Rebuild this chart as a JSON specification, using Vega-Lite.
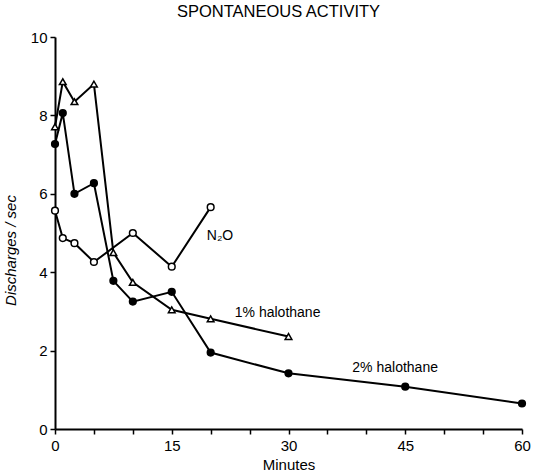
{
  "$schema": "https://vega.github.io/schema/vega-lite/v6.json",
  "width": 467,
  "height": 392,
  "autosize": {"type": "none"},
  "padding": {"left": 55, "top": 37, "right": 14, "bottom": 43},
  "background": "white",
  "title": {"text": "SPONTANEOUS ACTIVITY", "font": "Liberation Sans", "fontSize": 16.5, "fontWeight": "normal", "color": "black", "offset": 10, "dx": -10},
  "config": {
    "view": {"stroke": null},
    "axis": {"grid": false, "domainColor": "black", "domainWidth": 2, "tickColor": "black", "tickWidth": 1.5, "tickSize": 5, "labelColor": "black", "labelFont": "Liberation Sans", "labelFontSize": 15, "titleFont": "Liberation Sans", "titleColor": "black", "titleFontWeight": "normal"}
  },
  "resolve": {"axis": {"x": "independent"}},
  "datasets": {
    "pts": [
      {"series": "N2O", "minutes": 0, "rate": 5.57},
      {"series": "N2O", "minutes": 1, "rate": 4.87},
      {"series": "N2O", "minutes": 2.5, "rate": 4.74},
      {"series": "N2O", "minutes": 5, "rate": 4.26},
      {"series": "N2O", "minutes": 10, "rate": 5.0},
      {"series": "N2O", "minutes": 15, "rate": 4.14},
      {"series": "N2O", "minutes": 20, "rate": 5.66},
      {"series": "1% halothane", "minutes": 0, "rate": 7.71},
      {"series": "1% halothane", "minutes": 1, "rate": 8.86},
      {"series": "1% halothane", "minutes": 2.5, "rate": 8.35},
      {"series": "1% halothane", "minutes": 5, "rate": 8.8},
      {"series": "1% halothane", "minutes": 7.5, "rate": 4.5},
      {"series": "1% halothane", "minutes": 10, "rate": 3.74},
      {"series": "1% halothane", "minutes": 15, "rate": 3.04},
      {"series": "1% halothane", "minutes": 20, "rate": 2.81},
      {"series": "1% halothane", "minutes": 30, "rate": 2.36},
      {"series": "2% halothane", "minutes": 0, "rate": 7.27},
      {"series": "2% halothane", "minutes": 1, "rate": 8.06},
      {"series": "2% halothane", "minutes": 2.5, "rate": 6.0},
      {"series": "2% halothane", "minutes": 5, "rate": 6.27},
      {"series": "2% halothane", "minutes": 7.5, "rate": 3.78},
      {"series": "2% halothane", "minutes": 10, "rate": 3.25},
      {"series": "2% halothane", "minutes": 15, "rate": 3.5},
      {"series": "2% halothane", "minutes": 20, "rate": 1.95},
      {"series": "2% halothane", "minutes": 30, "rate": 1.42},
      {"series": "2% halothane", "minutes": 45, "rate": 1.08},
      {"series": "2% halothane", "minutes": 60, "rate": 0.65}
    ],
    "labels": [
      {"text": "N₂O", "minutes": 19.5, "rate": 4.92},
      {"text": "1% halothane", "minutes": 23.1, "rate": 2.96},
      {"text": "2% halothane", "minutes": 38.2, "rate": 1.56}
    ]
  },
  "layer": [
    {
      "data": {"name": "pts"},
      "mark": {"type": "line", "color": "black", "strokeWidth": 2},
      "encoding": {
        "x": {"field": "minutes", "type": "quantitative", "scale": {"domain": [0, 60], "nice": false},
              "axis": {"orient": "bottom", "title": "Minutes", "titleFontSize": 15, "titleY": 28, "titleBaseline": "top", "values": [0, 15, 30, 45, 60], "labelOverlap": false, "labelFlush": false, "labelPadding": 4}},
        "y": {"field": "rate", "type": "quantitative", "scale": {"domain": [0, 10], "nice": false},
              "axis": {"title": "Discharges / sec", "titleFontStyle": "italic", "titleFontSize": 15, "titleX": -37, "titleY": 213, "values": [0, 1, 2, 3, 4, 5, 6, 7, 8, 9, 10], "labelExpr": "datum.value % 2 == 0 ? datum.label : ''", "labelPadding": 3}},
        "detail": {"field": "series"}
      }
    },
    {
      "data": {"name": "pts"},
      "mark": {"type": "point", "stroke": "black", "strokeWidth": 1.5, "opacity": 1, "filled": false},
      "encoding": {
        "x": {"field": "minutes", "type": "quantitative",
              "axis": {"orient": "bottom", "title": null, "labels": false, "domain": false, "values": [5, 10, 20, 25, 35, 40, 50, 55]}},
        "y": {"field": "rate", "type": "quantitative"},
        "shape": {"field": "series", "type": "nominal", "scale": {"domain": ["N2O", "1% halothane", "2% halothane"], "range": ["circle", "triangle-up", "circle"]}, "legend": null},
        "fill": {"field": "series", "type": "nominal", "scale": {"domain": ["N2O", "1% halothane", "2% halothane"], "range": ["white", "white", "black"]}, "legend": null},
        "size": {"value": 45}
      }
    },
    {
      "data": {"name": "labels"},
      "mark": {"type": "text", "align": "left", "baseline": "middle", "font": "Liberation Sans", "fontSize": 14, "color": "black"},
      "encoding": {
        "x": {"field": "minutes", "type": "quantitative", "axis": null},
        "y": {"field": "rate", "type": "quantitative"},
        "text": {"field": "text"}
      }
    }
  ]
}
